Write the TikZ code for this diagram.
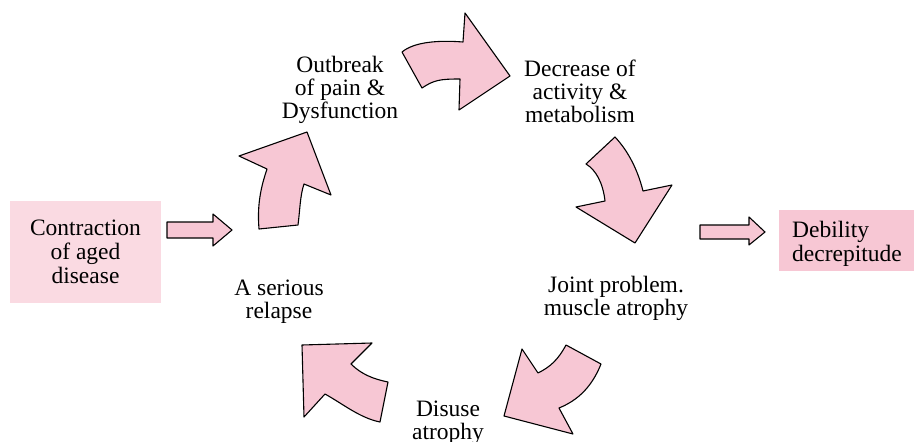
\documentclass[tikz,border=0pt]{standalone}
\usepackage{fontspec}
\setmainfont{Liberation Serif}
\definecolor{arrowpink}{RGB}{247,199,212}
\definecolor{lightpink}{RGB}{250,218,226}
\begin{document}
\begin{tikzpicture}[x=1pt, y=-1pt, line join=round, line cap=round]
		\tikzset{label text/.style={font=\fontsize{23.5}{23}\selectfont, align=center, inner sep=0pt, anchor=north},
			end box/.style={font=\fontsize{23.5}{24}\selectfont, inner sep=0pt},
			block arrow/.style={draw=black, line width=1.1pt, fill=arrowpink}}
		\def \W{914}\def \H{442}
		\useasboundingbox (0,0) rectangle (\W,\H);
		\node[end box, fill=lightpink, align=center, minimum width=151pt, minimum height=102pt] (aged) at (85.5,252) {Contraction\\of aged\\disease};
		\node[end box, fill=arrowpink, align=left, minimum width=136pt, minimum height=61pt] (debility) at (847,240.5) {\rule{0pt}{22pt}Debility\\decrepitude};
		\node[label text] (outbreak) at (340,56) {Outbreak\\of pain \&\\Dysfunction};
		\node[label text] (decrease) at (580,60) {Decrease of\\activity \&\\metabolism};
		\node[label text] (joint) at (616,276) {Joint problem.\\muscle atrophy};
		\node[label text] (disuse) at (448,401) {Disuse\\atrophy};
		\node[label text] (relapse) at (279,280) {A serious\\relapse};
		\draw[block arrow] (167,222)--(213,222)--(213,214)--(232,230)--(213,246)--(213,238)--(167,238)--cycle;
		\draw[block arrow] (700,225)--(749,225)--(749,217)--(765,232)--(749,245)--(749,239)--(700,239)--cycle;
		\draw[block arrow] (259,229)..controls +(-2,-25) and +(-6,18)..
		(267,169)--(239,156)--(307,132)--(331,195)--
		(304,184)..controls +(-4,12) and +(2,-15)..
		(298,225)--cycle;
		\draw[block arrow] (402,52)..controls +(12,-10) and +(-25,-2)..
		(463,42)--(465,13)--(510,76)--(459,110)--
		(460,79)..controls +(-20,0) and +(12,-8)..
		(422,88)--cycle;
		\draw[block arrow] (615,137)..controls +(14,15) and +(-5,-20)..
		(643,191)--(672,185)--(635,243)--(576,207)--
		(605,201)..controls +(-2,-18) and +(10,6)..
		(586,164)--cycle;
		\draw[block arrow] (566,345)..controls +(-8,15) and +(12,-6)..
		(538,373)--(522,349)--(504,416)--(573,434)--
		(559,408)..controls +(25,-10) and +(-6,15)..
		(601,364)--cycle;
		\draw[block arrow] (388,382)--
		(380,422)..controls +(-20,-4) and +(18,10)..
		(325,394)--(304,417)--(302,345)--(372,343)--
		(351,364)..controls +(10,10) and +(-15,-3)..
		(388,382)--cycle;
\end{tikzpicture}
\end{document}
